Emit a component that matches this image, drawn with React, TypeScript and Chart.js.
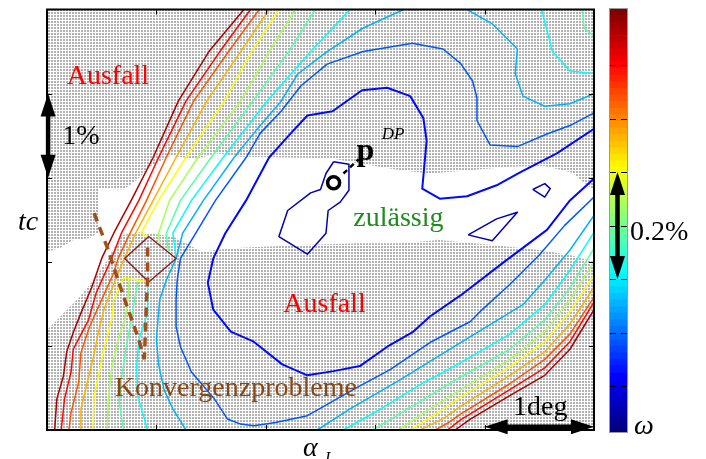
import React, { useEffect, useRef } from 'react';
import { Chart, registerables } from 'chart.js';

Chart.register(...registerables);

type P = [number, number];

// Axis extents: α_I in deg, tc in % (offsets from the lower-left corner of the map)
const alphaRange: P = [0, 5];
const tcRange: P = [0, 5];
const alphaTicks = [1, 2, 3, 4];
const tcTicks = [1, 2, 3, 4];

// ω colour scale (in %)
const omegaRange: P = [0.014, 0.805];
const omegaTicks = [0.1, 0.2, 0.3, 0.4, 0.5, 0.6, 0.7];
const omegaBandCount = 64;

// ω value of each contour level, innermost first
const omegaLevels = [0.05, 0.12, 0.18, 0.25, 0.31, 0.38, 0.44, 0.51, 0.57, 0.64, 0.7, 0.77];

// Feasible (converged, no failure) region, drawn white over the failure pattern
const feasibleRegion: P[] = [
  [0.0, 2.12], [0.13, 2.17], [0.24, 2.26], [0.39, 2.28], [0.47, 2.35], [0.47, 2.87], [0.7, 2.86],
  [0.82, 2.97], [0.95, 3.14], [1.13, 3.26], [1.36, 3.22], [1.54, 3.29], [1.77, 3.25], [2.59, 3.23],
  [2.86, 3.17], [3.23, 3.09], [3.5, 3.05], [3.87, 3.09], [4.23, 3.13], [4.55, 3.14], [4.8, 3.06],
  [4.94, 2.91], [5.0, 2.85], [5.0, 2.0], [4.78, 2.08], [4.5, 2.14], [4.14, 2.19], [3.59, 2.26],
  [3.23, 2.22], [2.86, 2.22], [2.32, 2.2], [1.68, 2.16], [1.41, 2.12], [1.22, 2.26], [1.15, 2.3],
  [0.86, 2.35], [0.68, 2.32], [0.54, 2.0], [0.41, 1.76], [0.29, 1.57], [0.0, 1.19],
];

// Contour lines of ω, one array per connected segment
const level1IslandA: P[] = [[2.62, 3.19], [2.76, 3.16], [2.76, 2.85], [2.68, 2.71], [2.57, 2.61], [2.55, 2.34], [2.38, 2.09], [2.12, 2.3], [2.2, 2.61], [2.41, 2.82], [2.5, 2.86], [2.55, 3.05], [2.62, 3.19]];
const level1IslandB: P[] = [[4.44, 2.86], [4.55, 2.93], [4.6, 2.87], [4.55, 2.77], [4.44, 2.86]];
const level1IslandC: P[] = [[3.85, 2.32], [4.11, 2.51], [4.3, 2.59], [4.07, 2.25], [3.85, 2.32]];

const level2: P[] = [[5.0, 3.58], [4.66, 3.29], [4.32, 3.06], [4.11, 2.91], [3.84, 2.78], [3.59, 2.75], [3.43, 2.87], [3.47, 3.44], [3.44, 3.71], [3.32, 3.97], [3.11, 4.07], [2.88, 4.04], [2.61, 3.79], [2.38, 3.74], [2.23, 3.53], [2.03, 3.24], [1.82, 2.73], [1.63, 2.34], [1.52, 2.04], [1.47, 1.75], [1.52, 1.43], [1.68, 1.17], [1.89, 1.05], [2.15, 0.78], [2.38, 0.65], [2.62, 0.7], [2.86, 0.76], [3.11, 0.99], [3.35, 1.17], [3.5, 1.35], [3.78, 1.6], [4.17, 1.99], [4.57, 2.38], [4.78, 2.73], [5.0, 2.99]];

const level3: P[] = [[5.0, 3.77], [4.78, 3.62], [4.57, 3.52], [4.3, 3.37], [4.05, 3.39], [3.93, 3.68], [3.93, 3.95], [3.89, 4.15], [3.78, 4.36], [3.62, 4.53], [3.34, 4.6], [2.89, 4.5], [2.56, 4.35], [2.32, 4.09], [2.14, 3.79], [1.95, 3.53], [1.82, 3.24], [1.54, 2.73], [1.36, 2.34], [1.22, 2.04], [1.19, 1.78], [1.18, 1.55], [1.18, 1.23], [1.22, 0.99], [1.32, 0.69], [1.53, 0.37], [1.65, 0.13], [1.77, 0.07], [1.89, 0.05], [2.09, 0.09], [2.38, 0.17], [2.84, 0.51], [3.14, 0.72], [3.5, 1.04], [3.87, 1.29], [3.96, 1.41], [4.23, 1.73], [4.5, 2.08], [4.73, 2.43], [5.0, 2.77]];

const level4Corner: P[] = [[3.84, 5.0], [4.07, 4.83], [4.3, 4.53], [4.28, 4.24], [4.35, 3.97], [4.55, 3.85], [4.78, 3.88], [5.0, 4.0]];
const level4Left: P[] = [[3.26, 5.0], [2.89, 4.78], [2.56, 4.5], [2.29, 4.23], [2.14, 3.91], [1.91, 3.56], [1.71, 3.24], [1.43, 2.73], [1.24, 2.34], [1.18, 2.04], [1.09, 1.78], [1.03, 1.55], [1.0, 1.08], [1.02, 0.78], [1.07, 0.48], [1.15, 0.25], [1.27, 0.0]];
const level4Right: P[] = [[2.47, 0.0], [2.77, 0.25], [3.23, 0.6], [3.78, 1.04], [4.35, 1.49], [4.55, 1.78], [4.78, 2.14], [5.0, 2.55]];

const level5Corner: P[] = [[4.52, 5.0], [4.62, 4.5], [4.78, 4.27], [5.0, 4.24]];
const level5Upper: P[] = [[2.77, 5.0], [2.41, 4.5], [2.01, 3.91], [1.61, 3.24], [1.32, 2.73], [1.15, 2.34], [1.18, 2.07]];
const level5Lower: P[] = [[0.92, 1.75], [0.92, 1.39], [0.84, 1.08], [0.82, 0.76], [0.83, 0.4], [0.92, 0.0]];
const level5Right: P[] = [[2.71, 0.0], [3.05, 0.25], [3.41, 0.54], [3.78, 0.8], [4.23, 1.14], [4.55, 1.49], [4.78, 1.9], [5.0, 2.35]];

const level6Corner: P[] = [[4.89, 5.0], [4.91, 4.78], [5.0, 4.68]];
const level6Upper: P[] = [[2.45, 5.0], [2.21, 4.5], [1.88, 3.91], [1.5, 3.24], [1.22, 2.73], [1.09, 2.34], [1.11, 2.13]];
const level6Lower: P[] = [[0.83, 1.76], [0.8, 1.55], [0.77, 1.31], [0.72, 0.96], [0.68, 0.6], [0.66, 0.33], [0.7, 0.0]];
const level6Right: P[] = [[2.98, 0.0], [3.32, 0.27], [3.78, 0.63], [4.23, 0.96], [4.55, 1.31], [4.78, 1.69], [5.0, 2.16]];

const level7Upper: P[] = [[2.27, 5.0], [2.03, 4.5], [1.77, 3.91], [1.38, 3.24], [1.12, 2.73], [1.02, 2.34], [1.03, 2.21]];
const level7Lower: P[] = [[0.75, 1.78], [0.74, 1.55], [0.71, 1.31], [0.65, 1.08], [0.59, 0.72], [0.56, 0.37], [0.55, 0.0]];
const level7Right: P[] = [[3.21, 0.0], [3.5, 0.25], [3.78, 0.48], [4.23, 0.84], [4.55, 1.17], [4.78, 1.55], [5.0, 2.0]];

const level8Upper: P[] = [[2.12, 5.0], [1.87, 4.5], [1.62, 3.91], [1.27, 3.24], [1.02, 2.73], [0.86, 2.34], [0.93, 2.3]];
const level8Lower: P[] = [[0.93, 1.76], [0.7, 1.81], [0.61, 1.55], [0.59, 1.31], [0.52, 0.96], [0.47, 0.64], [0.43, 0.4], [0.42, 0.0]];
const level8Right: P[] = [[3.32, 0.0], [3.59, 0.22], [3.78, 0.39], [4.23, 0.75], [4.55, 1.05], [4.78, 1.41], [5.0, 1.84]];

const level9Left: P[] = [[2.03, 5.0], [1.77, 4.5], [1.46, 3.91], [1.18, 3.24], [0.97, 2.73], [0.81, 2.34], [0.7, 2.02], [0.59, 1.67], [0.52, 1.43], [0.47, 1.16], [0.42, 0.84], [0.36, 0.52], [0.31, 0.25], [0.31, 0.0]];
const level9Right: P[] = [[3.41, 0.0], [3.64, 0.15], [3.78, 0.28], [4.23, 0.65], [4.55, 0.93], [4.78, 1.26], [5.0, 1.7]];

const level10Left: P[] = [[1.94, 5.0], [1.66, 4.5], [1.34, 3.91], [1.09, 3.24], [0.91, 2.73], [0.74, 2.29], [0.65, 2.04], [0.61, 1.87], [0.5, 1.55], [0.39, 1.23], [0.31, 0.92], [0.29, 0.57], [0.22, 0.21], [0.2, 0.0]];
const level10Right: P[] = [[3.55, 0.0], [3.66, 0.08], [3.78, 0.19], [4.23, 0.55], [4.55, 0.84], [4.78, 1.14], [5.0, 1.58]];

const level11Left: P[] = [[1.86, 5.0], [1.58, 4.5], [1.27, 3.91], [1.02, 3.24], [0.84, 2.73], [0.68, 2.34], [0.59, 2.04], [0.45, 1.63], [0.38, 1.31], [0.3, 1.11], [0.24, 0.96], [0.22, 0.69], [0.16, 0.37], [0.13, 0.0]];
const level11Right: P[] = [[3.66, 0.0], [3.78, 0.12], [4.23, 0.48], [4.55, 0.74], [4.78, 1.05], [5.0, 1.52]];

const level12Left: P[] = [[1.8, 5.0], [1.48, 4.5], [1.2, 3.91], [0.97, 3.24], [0.77, 2.73], [0.61, 2.34], [0.5, 2.04], [0.41, 1.7], [0.31, 1.39], [0.24, 1.16], [0.18, 0.93], [0.15, 0.64], [0.09, 0.37], [0.07, 0.0]];
const level12Right: P[] = [[3.73, 0.0], [3.87, 0.13], [4.23, 0.41], [4.55, 0.65], [4.78, 0.96], [5.0, 1.43]];

// Segment lists per level (index into omegaLevels)
const contourSegments: [number, P[]][] = [
  [0, level1IslandA], [0, level1IslandB], [0, level1IslandC],
  [1, level2],
  [2, level3],
  [3, level4Corner], [3, level4Left], [3, level4Right],
  [4, level5Corner], [4, level5Upper], [4, level5Lower], [4, level5Right],
  [5, level6Corner], [5, level6Upper], [5, level6Lower], [5, level6Right],
  [6, level7Upper], [6, level7Lower], [6, level7Right],
  [7, level8Upper], [7, level8Lower], [7, level8Right],
  [8, level9Left], [8, level9Right],
  [9, level10Left], [9, level10Right],
  [10, level11Left], [10, level11Right],
  [11, level12Left], [11, level12Right],
];

// Region of convergence problems
const convergenceDiamond: P[] = [[0.93, 2.3], [1.18, 2.04], [0.93, 1.76], [0.71, 2.04], [0.93, 2.3]];
const convergenceBoundaryA: P[] = [[0.43, 2.58], [0.56, 2.14], [0.65, 1.78], [0.71, 1.55], [0.83, 1.11], [0.89, 0.84]];
const convergenceBoundaryB: P[] = [[0.92, 2.17], [0.92, 1.78], [0.91, 1.55], [0.89, 0.84]];

// Design point p^DP and its label leader
const designPoint: P = [2.62, 2.94];
const designLeader: P[] = [[2.71, 3.05], [2.85, 3.22]];

// Scale arrows: 1 % in tc, 1 deg in α_I, 0.2 % in ω
const tcArrow = { x: 0.01, from: 3, to: 4 };
const alphaArrow = { y: 0.04, from: 4, to: 5 };
const omegaArrow = { from: 0.3, to: 0.5 };

const SERIF = '"Liberation Serif", "Times New Roman", serif';

const mapLabels = [
  { text: 'Ausfall', x: 0.18, y: 4.11, color: '#ff0000' },
  { text: '1%', x: 0.14, y: 3.4, color: '#000000' },
  { text: 'zulässig', x: 2.8, y: 2.42, color: '#1e8c1e' },
  { text: 'Ausfall', x: 2.16, y: 1.4, color: '#ff0000' },
  { text: 'Konvergenzprobleme', x: 0.62, y: 0.4, color: '#8b4513' },
  { text: '1deg', x: 4.26, y: 0.18, color: '#000000' },
];

const jet = (t: number) => {
  const c = (v: number) => Math.round(255 * Math.min(1, Math.max(0, v)));
  const r = c(1.5 - Math.abs(4 * t - 3));
  const g = c(1.5 - Math.abs(4 * t - 2));
  const b = c(1.5 - Math.abs(4 * t - 1));
  return `rgb(${r},${g},${b})`;
};
const omegaColor = (w: number) => jet((w - omegaRange[0]) / (omegaRange[1] - omegaRange[0]));

const toXY = (pts: P[]) => pts.map(([x, y]) => ({ x, y }));

function lineSet(pts: P[], color: string, width: number, order: number, dash: number[] = []) {
  return {
    data: toXY(pts),
    showLine: true,
    borderColor: color,
    borderWidth: width,
    borderDash: dash,
    borderCapStyle: 'butt',
    borderJoinStyle: 'round',
    pointRadius: 0,
    pointHoverRadius: 0,
    fill: false,
    tension: 0,
    order,
  };
}

function drawArrow(ctx: CanvasRenderingContext2D, x0: number, y0: number, x1: number, y1: number) {
  const len = Math.hypot(x1 - x0, y1 - y0);
  const ux = (x1 - x0) / len;
  const uy = (y1 - y0) / len;
  const nx = -uy;
  const ny = ux;
  const head = 23;
  const half = 7.5;
  ctx.save();
  ctx.fillStyle = '#000';
  ctx.strokeStyle = '#000';
  ctx.lineWidth = 4.5;
  ctx.beginPath();
  ctx.moveTo(x0 + ux * (head - 2), y0 + uy * (head - 2));
  ctx.lineTo(x1 - ux * (head - 2), y1 - uy * (head - 2));
  ctx.stroke();
  const tri = (tx: number, ty: number, dx: number, dy: number) => {
    ctx.beginPath();
    ctx.moveTo(tx, ty);
    ctx.lineTo(tx + dx * head + nx * half, ty + dy * head + ny * half);
    ctx.lineTo(tx + dx * head - nx * half, ty + dy * head - ny * half);
    ctx.closePath();
    ctx.fill();
  };
  tri(x0, y0, ux, uy);
  tri(x1, y1, -ux, -uy);
  ctx.restore();
}

const failurePatternPlugin = {
  id: 'failurePattern',
  beforeDatasetsDraw(chart: any) {
    const { ctx, chartArea: a, scales } = chart;
    const sx = scales.x;
    const sy = scales.y;
    const tile = document.createElement('canvas');
    tile.width = 3;
    tile.height = 3;
    const t = tile.getContext('2d')!;
    t.fillStyle = '#ffffff';
    t.fillRect(0, 0, 3, 3);
    t.fillStyle = '#b2b2b2';
    t.fillRect(0, 0, 2, 2);
    ctx.save();
    ctx.fillStyle = ctx.createPattern(tile, 'repeat');
    ctx.fillRect(a.left, a.top, a.right - a.left, a.bottom - a.top);
    ctx.beginPath();
    feasibleRegion.forEach(([u, v], i) => {
      const px = sx.getPixelForValue(u);
      const py = sy.getPixelForValue(v);
      if (i === 0) ctx.moveTo(px, py);
      else ctx.lineTo(px, py);
    });
    ctx.closePath();
    ctx.fillStyle = '#ffffff';
    ctx.fill();
    ctx.restore();
  },
};

const mapOverlayPlugin = {
  id: 'mapOverlay',
  afterDraw(chart: any) {
    const { ctx, chartArea: a, scales } = chart;
    const sx = scales.x;
    const sy = scales.y;
    ctx.save();
    // frame with inward ticks
    ctx.strokeStyle = '#000';
    ctx.lineWidth = 1;
    ctx.beginPath();
    alphaTicks.forEach((v) => {
      const px = Math.round(sx.getPixelForValue(v)) + 0.5;
      ctx.moveTo(px, a.bottom);
      ctx.lineTo(px, a.bottom - 5);
      ctx.moveTo(px, a.top);
      ctx.lineTo(px, a.top + 5);
    });
    tcTicks.forEach((v) => {
      const py = Math.round(sy.getPixelForValue(v)) + 0.5;
      ctx.moveTo(a.left, py);
      ctx.lineTo(a.left + 5, py);
      ctx.moveTo(a.right, py);
      ctx.lineTo(a.right - 5, py);
    });
    ctx.stroke();
    ctx.lineWidth = 2;
    ctx.strokeRect(a.left, a.top, a.right - a.left, a.bottom - a.top);

    // scale arrows
    const ax = sx.getPixelForValue(tcArrow.x);
    drawArrow(ctx, ax, sy.getPixelForValue(tcArrow.to), ax, sy.getPixelForValue(tcArrow.from));
    const ay = sy.getPixelForValue(alphaArrow.y);
    drawArrow(ctx, sx.getPixelForValue(alphaArrow.from), ay, sx.getPixelForValue(alphaArrow.to), ay);

    // labels
    ctx.textBaseline = 'alphabetic';
    ctx.textAlign = 'left';
    ctx.font = `28px ${SERIF}`;
    mapLabels.forEach((l) => {
      ctx.fillStyle = l.color;
      ctx.fillText(l.text, sx.getPixelForValue(l.x), sy.getPixelForValue(l.y));
    });
    ctx.fillStyle = '#000';
    ctx.font = `bold 32px ${SERIF}`;
    ctx.fillText('p', sx.getPixelForValue(2.83), sy.getPixelForValue(3.21));
    ctx.font = `italic 17px ${SERIF}`;
    ctx.fillText('DP', sx.getPixelForValue(3.06), sy.getPixelForValue(3.46));

    // axis titles
    ctx.font = `italic 28px ${SERIF}`;
    ctx.fillText('tc', 18, 230);
    ctx.fillText('α', 303, 456);
    ctx.font = `italic 16px ${SERIF}`;
    ctx.fillText('I', 325, 463);
    ctx.restore();
  },
};

const colorbarOverlayPlugin = {
  id: 'colorbarOverlay',
  afterDraw(chart: any) {
    const { ctx, chartArea: a, scales } = chart;
    const sy = scales.y;
    ctx.save();
    ctx.strokeStyle = '#9a9a9a';
    ctx.lineWidth = 1;
    ctx.strokeRect(a.left - 0.5, a.top - 0.5, a.right - a.left + 1, a.bottom - a.top + 1);
    ctx.strokeStyle = '#000';
    ctx.beginPath();
    omegaTicks.forEach((v) => {
      const py = Math.round(sy.getPixelForValue(v)) + 0.5;
      ctx.moveTo(a.left, py);
      ctx.lineTo(a.left + 6, py);
      ctx.moveTo(a.right, py);
      ctx.lineTo(a.right - 6, py);
    });
    ctx.stroke();
    const cx = (a.left + a.right) / 2 - 1;
    drawArrow(ctx, cx, sy.getPixelForValue(omegaArrow.to), cx, sy.getPixelForValue(omegaArrow.from));
    ctx.fillStyle = '#000';
    ctx.textBaseline = 'alphabetic';
    ctx.font = `28px ${SERIF}`;
    ctx.fillText('0.2%', a.right + 3, sy.getPixelForValue(0.373));
    ctx.font = `italic 28px ${SERIF}`;
    ctx.fillText('ω', a.right + 7, sy.getPixelForValue(0.01));
    ctx.restore();
  },
};

export default function App() {
  const mapRef = useRef<HTMLCanvasElement>(null);
  const barRef = useRef<HTMLCanvasElement>(null);

  useEffect(() => {
    const datasets: any[] = [];
    datasets.push({
      data: toXY([designPoint]),
      pointRadius: 6,
      pointBorderWidth: 3.5,
      pointBorderColor: '#000',
      pointBackgroundColor: '#fff',
      pointHoverRadius: 6,
      showLine: false,
      order: 0,
    });
    datasets.push(lineSet(designLeader, '#000', 2.5, 1, [5, 4]));
    datasets.push(lineSet(convergenceBoundaryA, '#a34e19', 3.5, 2, [9, 6]));
    datasets.push(lineSet(convergenceBoundaryB, '#a34e19', 3.5, 2, [9, 6]));
    datasets.push(lineSet(convergenceDiamond, '#8b1c1c', 1.4, 3));
    contourSegments.forEach(([lvl, pts]) => {
      const w = lvl === 1 ? 2 : 1.5;
      datasets.push(lineSet(pts, omegaColor(omegaLevels[lvl]), w, 10 + lvl));
    });

    const map = new Chart(mapRef.current!, {
      type: 'scatter',
      data: { datasets },
      options: {
        responsive: false,
        animation: false,
        events: [],
        layout: { padding: { left: 47, right: 112, top: 8, bottom: 29 } },
        scales: {
          x: { type: 'linear', min: alphaRange[0], max: alphaRange[1], display: false },
          y: { type: 'linear', min: tcRange[0], max: tcRange[1], display: false },
        },
        plugins: { legend: { display: false }, tooltip: { enabled: false } },
      },
      plugins: [failurePatternPlugin, mapOverlayPlugin],
    } as any);

    const step = (omegaRange[1] - omegaRange[0]) / omegaBandCount;
    const bands = Array.from({ length: omegaBandCount }, (_, i) => ({
      data: [[omegaRange[0] + i * step, omegaRange[0] + (i + 1) * step]],
      backgroundColor: jet(i / (omegaBandCount - 1)),
      borderWidth: 0,
      grouped: false,
      barPercentage: 1,
      categoryPercentage: 1,
    }));
    const bar = new Chart(barRef.current!, {
      type: 'bar',
      data: { labels: ['ω'], datasets: bands },
      options: {
        responsive: false,
        animation: false,
        events: [],
        layout: { padding: { left: 12, right: 79, top: 9, bottom: 27 } },
        scales: {
          x: { type: 'category', display: false },
          y: { type: 'linear', min: omegaRange[0], max: omegaRange[1], display: false },
        },
        plugins: { legend: { display: false }, tooltip: { enabled: false } },
      },
      plugins: [colorbarOverlayPlugin],
    } as any);

    return () => {
      map.destroy();
      bar.destroy();
    };
  }, []);

  return (
    <div style={{ position: 'fixed', left: 0, top: 0, width: 706, height: 459, background: '#fff', overflow: 'hidden' }}>
      <canvas ref={mapRef} width={706} height={459} style={{ position: 'absolute', left: 0, top: 0 }} />
      <canvas ref={barRef} width={108} height={459} style={{ position: 'absolute', left: 598, top: 0 }} />
    </div>
  );
}
